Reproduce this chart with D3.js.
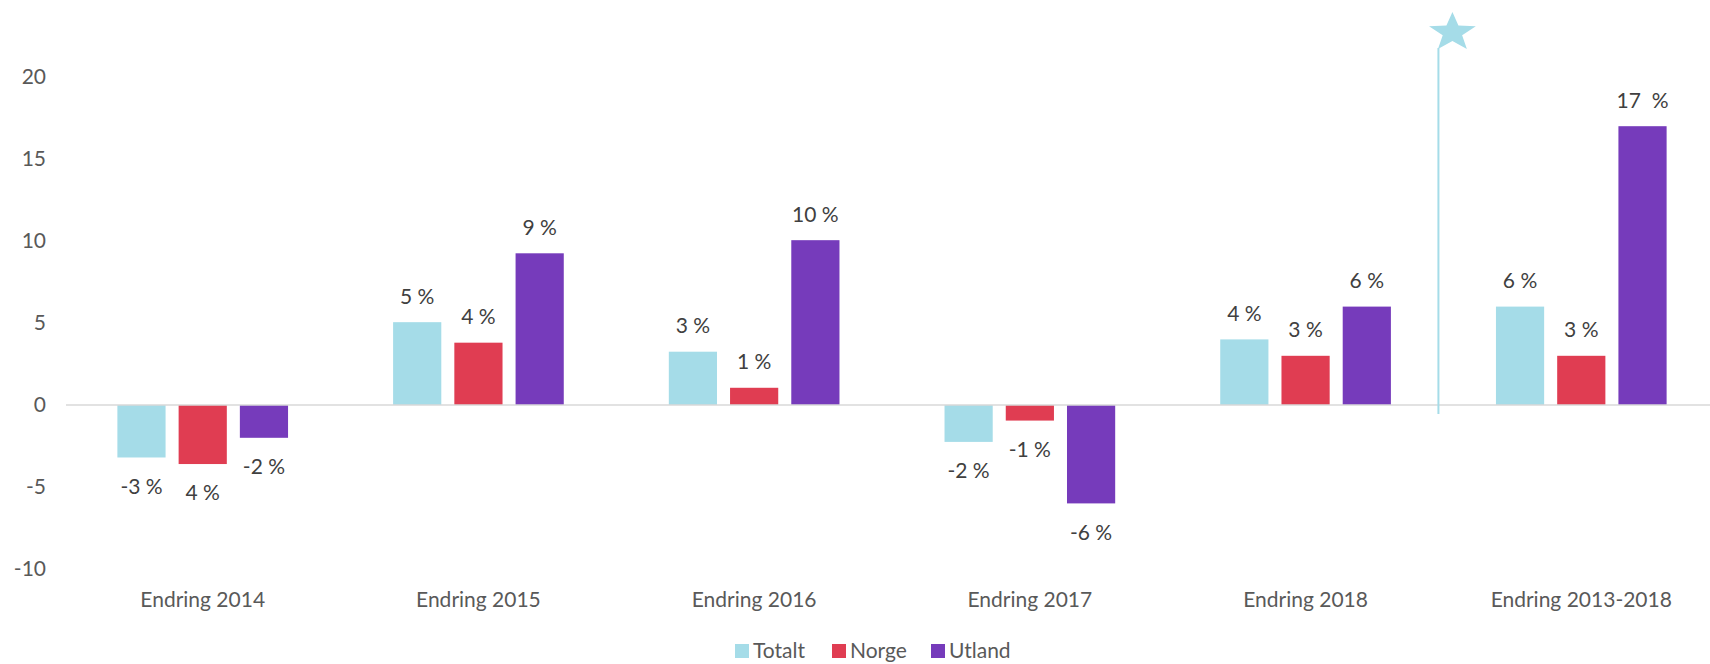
<!DOCTYPE html>
<html>
<head>
<meta charset="utf-8">
<script src="https://cdn.jsdelivr.net/npm/d3@7"></script>
<style>
  body { margin: 0; background: #fff; }
  svg text { font-family: Lato, "Open Sans", sans-serif; }
</style>
</head>
<body>
<svg id="chart"></svg>
<script>
// data
let categories = ["Endring 2014", "Endring 2015", "Endring 2016", "Endring 2017", "Endring 2018", "Endring 2013-2018"];
let seriesNames = ["Totalt", "Norge", "Utland"];
let totalt = [-3.2, 5.05, 3.25, -2.25, 4.0, 6.0];
let norge = [-3.6, 3.8, 1.05, -0.95, 3.0, 3.0];
let utland = [-2.0, 9.25, 10.05, -6.0, 6.0, 17.0];
let totaltLabels = ["-3 %", "5 %", "3 %", "-2 %", "4 %", "6 %"];
let norgeLabels = ["4 %", "4 %", "1 %", "-1 %", "3 %", "3 %"];
let utlandLabels = ["-2 %", "9 %", "10 %", "-6 %", "6 %", "17  %"];
let yTicks = [-10, -5, 0, 5, 10, 15, 20];
let colors = ["#a5dce8", "#e03d52", "#763bbb"];

let width = 1710, height = 664;
let svg = d3.select("#chart").attr("width", width).attr("height", height);

let x0 = d3.scaleBand().domain(categories).range([65, 1719])
  .paddingInner(0.381).paddingOuter(0.19);
let x1 = d3.scaleBand().domain(seriesNames).range([0, x0.bandwidth()]).paddingInner(0.213);
let y = d3.scaleLinear().domain([-10, 20]).range([569, 77]);

let rows = [];
categories.forEach(function(c, i){
  rows.push({cat: c, s: "Totalt", v: totalt[i], label: totaltLabels[i]});
  rows.push({cat: c, s: "Norge", v: norge[i], label: norgeLabels[i]});
  rows.push({cat: c, s: "Utland", v: utland[i], label: utlandLabels[i]});
});
let color = d3.scaleOrdinal().domain(seriesNames).range(colors);

// y axis labels (no line, no ticks)
let yAxis = svg.append("g").attr("transform", "translate(46,0)")
  .call(d3.axisLeft(y).tickValues(yTicks).tickFormat(d => String(d)).tickSize(0).tickPadding(0));
yAxis.select(".domain").remove();
yAxis.selectAll("text").attr("font-size", 21).attr("fill", "#595959")
  .style("font-family", "Lato, 'Open Sans', sans-serif");

// bars
svg.append("g").selectAll("rect").data(rows).enter().append("rect")
  .attr("x", d => x0(d.cat) + x1(d.s))
  .attr("width", x1.bandwidth())
  .attr("y", d => y(Math.max(0, d.v)))
  .attr("height", d => Math.abs(y(d.v) - y(0)))
  .attr("fill", d => color(d.s));

// zero line
svg.append("line").attr("x1", 66).attr("x2", width).attr("y1", y(0)).attr("y2", y(0))
  .attr("stroke", "#d9d9d9").attr("stroke-width", 1.5);

// data labels
svg.append("g").selectAll("text").data(rows).enter().append("text")
  .attr("x", d => x0(d.cat) + x1(d.s) + x1.bandwidth() / 2)
  .attr("y", d => d.v >= 0 ? y(d.v) - 26 : y(d.v) + 29)
  .attr("dy", "0.35em")
  .attr("text-anchor", "middle")
  .attr("font-size", 21)
  .attr("fill", "#404040")
  .style("white-space", "pre")
  .text(d => d.label);

// category labels
let xAxis = svg.append("g").attr("transform", "translate(0,600)")
  .call(d3.axisBottom(x0).tickSize(0).tickPadding(0));
xAxis.select(".domain").remove();
xAxis.selectAll("text").attr("font-size", 21).attr("fill", "#595959").attr("dy", "0.35em")
  .style("font-family", "Lato, 'Open Sans', sans-serif");

// divider with star before the last group
let last = categories[categories.length - 1];
let divX = x0(last) - (x0.step() - x0.bandwidth()) / 2 - 5;
svg.append("line").attr("x1", divX).attr("x2", divX).attr("y1", 48).attr("y2", y(0) + 9)
  .attr("stroke", "#a5dce8").attr("stroke-width", 2);

function starPath(cx, cy, R, r, sx){
  let pts = [];
  for(let k = 0; k < 10; k++){
    let a = -Math.PI / 2 + k * Math.PI / 5;
    let rad = k % 2 === 0 ? R : r;
    pts.push([cx + Math.cos(a) * rad * sx, cy + Math.sin(a) * rad]);
  }
  return "M" + pts.map(p => p.join(",")).join("L") + "Z";
}
svg.append("path").attr("d", starPath(divX + 14, 32.5, 20.5, 8.5, 1.2)).attr("fill", "#a5dce8");

// legend
let legend = svg.append("g").selectAll("g").data(seriesNames).enter().append("g")
  .attr("transform", (d, i) => "translate(" + [735, 832, 931][i] + ",644)");
legend.append("rect").attr("width", 14).attr("height", 14).attr("fill", d => color(d));
legend.append("text").attr("x", 18).attr("y", 7).attr("dy", "0.35em")
  .attr("font-size", 21).attr("fill", "#595959").text(d => d);
</script>
</body>
</html>
